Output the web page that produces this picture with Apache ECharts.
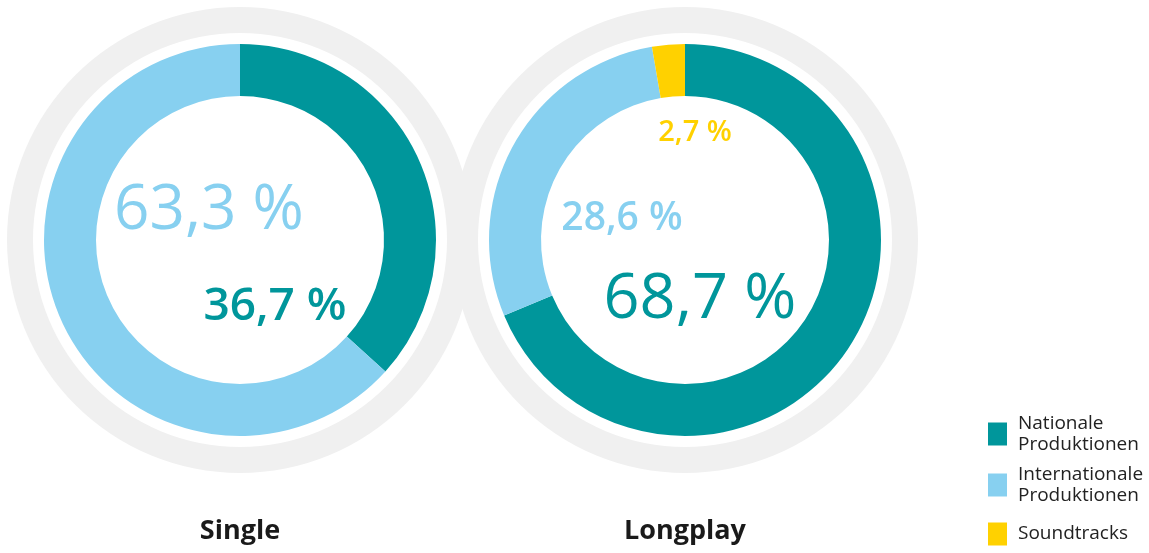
<!DOCTYPE html>
<html>
<head>
<meta charset="utf-8">
<script src="https://cdn.jsdelivr.net/npm/echarts@6/dist/echarts.min.js"></script>
<style>
  html, body { margin: 0; padding: 0; background: #fff; }
  #chart { width: 1149px; height: 553px; }
</style>
</head>
<body>
<div id="chart"></div>
<script>
var categories = ["Nationale Produktionen", "Internationale Produktionen", "Soundtracks"];
var colors = ["#00969b", "#87d0f0", "#ffd100"];
var chartTitles = ["Single", "Longplay"];
var singleValues = [36.7, 63.3];
var longplayValues = [68.7, 28.6, 2.7];

var chartDom = document.getElementById("chart");
var myChart = echarts.init(chartDom);
var option;

var FONT = "'Open Sans', 'Noto Sans', sans-serif";
var centers = [[240, 240], [685, 240]];

function fmt(v) {
  return v.toFixed(1).replace(".", ",") + " %";
}

function pieData(values) {
  return values.map(function (v, i) {
    return { name: categories[i], value: v, itemStyle: { color: colors[i] } };
  });
}

function ring(center) {
  return {
    type: "pie",
    center: center,
    radius: [207, 233],
    silent: true,
    animation: false,
    label: { show: false },
    labelLine: { show: false },
    itemStyle: { color: "#f0f0f0" },
    data: [{ name: "ring", value: 1 }],
  };
}

function donut(center, values) {
  return {
    type: "pie",
    center: center,
    radius: [144, 196],
    startAngle: 90,
    clockwise: true,
    animation: false,
    label: { show: false },
    labelLine: { show: false },
    emphasis: { scale: false },
    itemStyle: { borderWidth: 0 },
    data: pieData(values),
  };
}

// value labels: [series values, index, x, y, fontSize, fontWeight]
var labelSpots = [
  [singleValues, 1, 209, 211, 62, 500],
  [singleValues, 0, 275, 307, 46, 600],
  [longplayValues, 2, 695, 133, 29, 600],
  [longplayValues, 1, 622, 219, 39, 600],
  [longplayValues, 0, 700, 300, 63, 500],
];

var graphics = labelSpots.map(function (s) {
  return {
    type: "text",
    x: s[2],
    y: s[3],
    silent: true,
    style: {
      text: fmt(s[0][s[1]]),
      fill: colors[s[1]],
      font: s[5] + " " + s[4] + "px " + FONT,
      textAlign: "center",
      textVerticalAlign: "middle",
    },
  };
});

chartTitles.forEach(function (t, i) {
  graphics.push({
    type: "text",
    x: centers[i][0],
    y: 531,
    silent: true,
    style: {
      text: t,
      fill: "#1a1a1a",
      font: "bold 27px " + FONT,
      textAlign: "center",
      textVerticalAlign: "middle",
    },
  });
});

option = {
  backgroundColor: "#fff",
  legend: {
    orient: "vertical",
    left: 988,
    top: 413,
    height: 170,
    padding: 0,
    itemWidth: 19,
    itemHeight: 23,
    itemGap: 9,
    icon: "rect",
    selectedMode: false,
    formatter: function (name) {
      return name.replace(" ", "\n");
    },
    textStyle: {
      fontFamily: FONT,
      fontSize: 19,
      lineHeight: 21,
      color: "#222",
      padding: [0, 0, 0, 6],
    },
    data: categories.map(function (c, i) {
      return i === 2 ? { name: c, textStyle: { lineHeight: 38 } } : { name: c };
    }),
  },
  graphic: graphics,
  series: [
    ring(centers[0]),
    ring(centers[1]),
    donut(centers[0], singleValues),
    donut(centers[1], longplayValues),
  ],
};

option && myChart.setOption(option);
</script>
</body>
</html>
